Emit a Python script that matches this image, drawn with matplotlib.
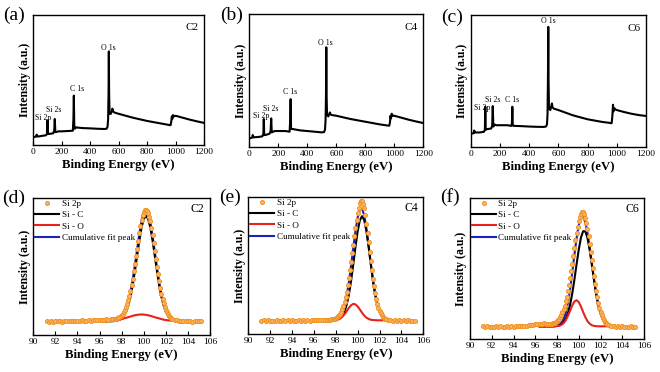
import numpy as np
import matplotlib.pyplot as plt

plt.rcParams['font.family'] = ['Liberation Serif', 'DejaVu Serif']

# survey spectra (a)-(c): binding energy (eV), intensity in % of axis height
survey_e = [0, 10, 20, 24, 27, 32, 60, 90, 97, 100,
            103, 110, 140, 147, 151, 155, 165, 175, 200, 250,
            278, 282, 285, 288, 292, 300, 350, 400, 450, 500,
            515, 522, 526, 529, 531, 533, 536, 545, 552, 556,
            560, 570, 600, 700, 800, 900, 950, 965, 970, 974,
            977, 982, 990, 1000, 1050, 1100, 1150, 1200]
survey_c2 = [6, 6.2, 6.5, 8, 6.8, 6.5, 7, 7.5, 9, 19,
             8.5, 8.5, 9, 11, 20, 10, 10, 10.5, 10.5, 10.8,
             11, 20, 38, 15, 12.5, 13.5, 13, 12.8, 12.5, 12.3,
             12.5, 14, 20, 40, 72, 40, 24, 24, 26, 28,
             26, 25, 24, 21, 18.5, 16.5, 15.5, 15.2, 18, 22,
             20, 23, 22, 22.5, 21, 19.5, 18.2, 17]
survey_c4 = [6.5, 6.7, 7.2, 9, 7.2, 7.3, 7.5, 8, 10, 21,
             9, 9, 10, 12, 21.5, 11, 11.5, 12, 12, 12,
             11.5, 20, 36, 14, 13.5, 13.5, 12.5, 12, 11.5, 11,
             11.2, 13, 20, 40, 75, 40, 24, 23, 25, 26,
             24.5, 24, 23.5, 21, 19, 17, 16.2, 16, 18.5, 23.5,
             21.5, 25, 23.5, 23.5, 22, 20.5, 19.2, 18]
survey_c6 = [10, 10.2, 10.5, 12.5, 11, 11, 11, 11.5, 13, 30.5,
             13, 13.5, 14, 16, 31, 15.5, 17, 16.5, 16.5, 16.5,
             16, 18, 30.5, 16.5, 16, 16, 15.8, 15.5, 15.3, 15.2,
             15.5, 17, 25, 55, 91, 50, 29, 28, 31, 33,
             30, 29, 28, 24, 21, 19, 18.3, 18, 24, 32,
             27, 29.5, 28.5, 28, 26.5, 25.2, 24.2, 23.5]

peak_names = ['Si 2p', 'Si 2s', 'C 1s', 'O 1s']
peak_pos_c2 = [(70, 21), (145, 27), (305, 43), (527, 75)]
peak_pos_c4 = [(79, 23), (148, 28.6), (281, 41), (522, 78.4)]
peak_pos_c6 = [(80, 29.3), (153, 35.5), (281, 35.6), (531, 95.7)]

# Si 2p high resolution spectra (d)-(f)
data_e = np.concatenate([np.linspace(91.2, 97.4, 32),
                         np.linspace(97.5, 102.5, 51),
                         np.linspace(102.6, 105.2, 14)])
fit_e = np.linspace(96.4, 103.2, 35)

si2p_c2 = [10.3, 9.8, 10.1, 9.7, 10.2, 9.9, 10.4, 9.8, 10.0, 10.3,
           9.9, 10.2, 10.5, 10.0, 10.3, 10.1, 10.6, 10.2, 10.4, 10.7,
           10.3, 10.8, 10.6, 11.0, 10.8, 11.2, 11.0, 11.4, 11.3, 11.6,
           11.5, 11.9,
           12.0, 12.2, 12.6, 13.0, 13.7, 14.5, 15.6, 16.8, 18.5, 20.3,
           22.6, 25.2, 28.5, 32.0, 36.5, 41.2, 46.4, 51.6, 57.4, 63.0,
           68.9, 74.5, 79.6, 84.2, 87.6, 90.1, 91.2, 91.5, 90.8, 89.3,
           86.4, 82.9, 78.2, 73.0, 67.3, 61.4, 55.5, 49.8, 44.4, 39.3,
           34.6, 30.2, 26.6, 23.5, 20.8, 18.4, 16.6, 15.0, 13.8, 12.9,
           12.3,
           11.8, 11.0, 10.6, 10.4, 10.1, 10.5, 9.9, 10.2, 10.4, 9.8,
           10.1, 10.3, 9.9, 10.1]
si2p_c4 = [9.5, 9.9, 9.6, 10.0, 9.4, 9.8, 9.6, 10.1, 9.7, 9.5,
           9.9, 9.6, 10.0, 9.7, 10.2, 9.8, 9.6, 10.0, 9.8, 10.1,
           9.7, 10.0, 9.8, 10.2, 9.9, 10.1, 10.0, 10.3, 10.1, 10.4,
           10.2, 10.5,
           10.5, 10.6, 10.8, 11.0, 11.3, 11.6, 12.1, 12.8, 13.7, 14.8,
           16.2, 18.0, 20.4, 23.2, 26.7, 30.8, 35.5, 40.6, 46.4, 52.5,
           58.9, 65.3, 71.5, 77.4, 83.0, 88.0, 92.3, 95.5, 97.2, 97.0,
           95.0, 91.8, 86.6, 80.5, 73.9, 67.0, 60.0, 53.2, 46.6, 40.4,
           34.8, 29.8, 25.6, 22.0, 19.2, 16.8, 15.0, 13.6, 12.6, 11.8,
           11.3,
           10.9, 10.4, 10.1, 9.8, 10.1, 9.7, 9.9, 9.6, 10.0, 9.7,
           9.9, 9.6, 9.8, 9.7]
si2p_c6 = [8.9, 8.6, 9.0, 8.7, 8.8, 8.5, 8.9, 8.7, 9.0, 8.6,
           8.8, 9.1, 8.7, 9.0, 8.8, 9.2, 8.9, 9.3, 9.1, 9.4,
           9.2, 9.6, 9.8, 10.1, 10.3, 10.6, 10.8, 10.9, 11.0, 10.8,
           10.6, 10.7,
           10.8, 11.0, 11.3, 11.6, 12.0, 12.6, 13.4, 14.3, 15.5, 17.0,
           18.9, 21.0, 23.6, 26.6, 30.1, 34.0, 38.4, 43.0, 48.2, 53.5,
           59.0, 64.5, 70.0, 75.0, 79.5, 83.5, 86.5, 88.8, 89.9, 89.8,
           88.3, 86.0, 82.3, 78.0, 73.0, 67.5, 61.8, 56.0, 50.2, 44.5,
           39.0, 34.0, 29.5, 25.5, 22.2, 19.2, 17.0, 15.0, 13.5, 12.3,
           11.5,
           10.8, 9.9, 9.4, 9.1, 8.8, 9.0, 8.7, 8.9, 8.6, 8.8,
           8.7, 8.9, 8.6, 8.8]

sic_c2 = [10.0, 10.0, 10.0, 10.0, 10.1, 10.2, 10.5, 11.1, 12.1, 13.9,
          16.9, 21.5, 27.9, 36.4, 46.6, 57.8, 68.9, 78.4, 84.7, 87.0,
          84.7, 78.4, 68.9, 57.8, 46.6, 36.4, 27.9, 21.5, 16.9, 13.9,
          12.1, 11.1, 10.5, 10.2, 10.1]
sio_c2 = [10.1, 10.1, 10.2, 10.3, 10.5, 10.7, 10.9, 11.2, 11.6, 12.1,
          12.5, 13.0, 13.5, 14.0, 14.4, 14.7, 14.9, 15.0, 14.9, 14.7,
          14.4, 14.0, 13.5, 13.0, 12.5, 12.1, 11.6, 11.2, 10.9, 10.7,
          10.5, 10.3, 10.2, 10.1, 10.1]
sum_c2 = [10.1, 10.1, 10.2, 10.3, 10.6, 10.9, 11.4, 12.3, 13.7, 16.0,
          19.4, 24.5, 31.4, 40.4, 51.0, 62.5, 73.8, 83.4, 89.6, 91.7,
          89.1, 82.4, 72.4, 60.8, 49.1, 38.5, 29.5, 22.7, 17.8, 14.6,
          12.6, 11.4, 10.7, 10.3, 10.2]

sic_c4 = [10.0, 10.0, 10.0, 10.0, 10.0, 10.0, 10.0, 10.1, 10.3, 10.7,
          11.6, 13.3, 16.4, 21.5, 28.9, 39.0, 51.0, 63.7, 75.1, 83.1,
          86.0, 83.1, 75.1, 63.7, 51.0, 39.0, 28.9, 21.5, 16.4, 13.3,
          11.6, 10.7, 10.3, 10.1, 10.0]
sio_c4 = [10.0, 10.0, 10.0, 10.0, 10.0, 10.0, 10.0, 10.1, 10.3, 10.6,
          11.4, 12.6, 14.4, 16.7, 19.1, 21.0, 22.0, 21.6, 20.1, 17.9,
          15.5, 13.4, 11.9, 11.0, 10.4, 10.2, 10.1, 10.0, 10.0, 10.0,
          10.0, 10.0, 10.0, 10.0, 10.0]
sum_c4 = [10.0, 10.0, 10.0, 10.0, 10.0, 10.0, 10.0, 10.2, 10.6, 11.3,
          13.0, 15.9, 20.8, 28.2, 38.0, 50.0, 63.0, 75.3, 85.2, 91.0,
          91.5, 86.5, 77.0, 64.7, 51.4, 39.2, 29.0, 21.5, 16.4, 13.3,
          11.6, 10.7, 10.3, 10.1, 10.0]

sic_c6 = [9.0, 9.0, 9.0, 9.0, 9.0, 9.0, 9.0, 9.1, 9.3, 9.6,
          10.4, 11.7, 14.2, 18.2, 24.1, 32.2, 42.1, 53.0, 63.4, 71.8,
          76.4, 76.4, 71.8, 63.4, 53.0, 42.1, 32.2, 24.1, 18.2, 14.2,
          11.7, 10.4, 9.6, 9.3, 9.1]
sio_c6 = [9.0, 9.0, 9.0, 9.0, 9.0, 9.0, 9.0, 9.0, 9.1, 9.4,
          10.0, 11.2, 13.2, 16.3, 20.0, 23.8, 26.6, 27.5, 26.2, 23.1,
          19.2, 15.6, 12.7, 10.9, 9.8, 9.3, 9.1, 9.0, 9.0, 9.0,
          9.0, 9.0, 9.0, 9.0, 9.0]
sum_c6 = [9.0, 9.0, 9.0, 9.0, 9.0, 9.0, 9.0, 9.1, 9.4, 10.0,
          11.4, 13.9, 18.4, 25.5, 35.1, 47.0, 59.7, 71.5, 80.6, 85.9,
          86.6, 83.0, 75.5, 65.3, 53.8, 42.4, 32.3, 24.1, 18.2, 14.2,
          11.7, 10.4, 9.6, 9.3, 9.1]

samples = ['C2', 'C4', 'C6']

fig = plt.figure(figsize=(6.6, 3.72), dpi=100)

# axes boxes in pixels: left, right, top, bottom
top_boxes = [(33.3, 204, 15, 145), (249.3, 423.3, 14, 147), (470.7, 646, 15, 147)]
bot_boxes = [(33.3, 210, 198, 335), (248.3, 423.3, 197, 334), (470, 644, 198, 339)]

def make_axes(box):
    l, r, t, b = box
    return fig.add_axes([l / 660, 1 - b / 372, (r - l) / 660, (b - t) / 372])

def style(ax):
    for s in ax.spines.values():
        s.set_linewidth(1.0)
    ax.tick_params(axis='x', direction='in', length=3, width=0.8,
                   labelsize=6.8, pad=2)
    ax.set_yticks([])
    ax.set_ylabel('Intensity (a.u.)', fontsize=8.6, fontweight='bold', labelpad=2)
    ax.set_xlabel('Binding Energy (eV)', fontsize=9.2, fontweight='bold', labelpad=2)
    ax.set_ylim(0, 100)

surveys = [survey_c2, survey_c4, survey_c6]
peak_pos = [peak_pos_c2, peak_pos_c4, peak_pos_c6]
for i in range(3):
    ax = make_axes(top_boxes[i])
    ax.plot(survey_e, surveys[i], color='black', lw=1.5)
    for name, (x, y) in zip(peak_names, peak_pos[i]):
        ax.text(x, y, name, fontsize=5.6, ha='center', va='center')
    ax.text(0.97, 0.9, samples[i], transform=ax.transAxes, fontsize=8,
            ha='right', va='center')
    ax.set_xlim(0, 1200)
    ax.set_xticks(range(0, 1201, 200))
    style(ax)

si2p = [si2p_c2, si2p_c4, si2p_c6]
sic = [sic_c2, sic_c4, sic_c6]
sio = [sio_c2, sio_c4, sio_c6]
fsum = [sum_c2, sum_c4, sum_c6]
for i in range(3):
    ax = make_axes(bot_boxes[i])
    ax.plot(fit_e, fsum[i], color='#1c22b8', lw=1.5, label='Cumulative fit peak', zorder=2)
    ax.plot(fit_e, sic[i], color='black', lw=1.5, label='Si - C', zorder=2)
    ax.plot(fit_e, sio[i], color='#e8211d', lw=1.5, label='Si - O', zorder=2)
    ax.plot(data_e, si2p[i], 'o', ms=2.9, mfc='#f9b468', mec='#f39322', mew=0.7,
            label='Si 2p', zorder=3)
    h, lab = ax.get_legend_handles_labels()
    order = [3, 1, 2, 0]
    ax.legend([h[k] for k in order], [lab[k] for k in order], loc='upper left',
              frameon=False, fontsize=6.6, handlelength=2.6, handletextpad=0.3,
              labelspacing=0.3, borderaxespad=0.1, borderpad=0.1)
    ax.text(0.97, 0.92, samples[i], transform=ax.transAxes, fontsize=8.5,
            ha='right', va='center')
    ax.set_xlim(90, 106)
    ax.set_xticks(range(90, 107, 2))
    style(ax)

panel_pos = [(3, 15, '(a)'), (220, 15, '(b)'), (441, 17, '(c)'),
             (2, 198, '(d)'), (219, 197, '(e)'), (440, 197, '(f)')]
for x, y, t in panel_pos:
    fig.text(x / 660, 1 - y / 372, t, fontsize=14, ha='left', va='center')

fig.savefig('out.png', dpi=100)
